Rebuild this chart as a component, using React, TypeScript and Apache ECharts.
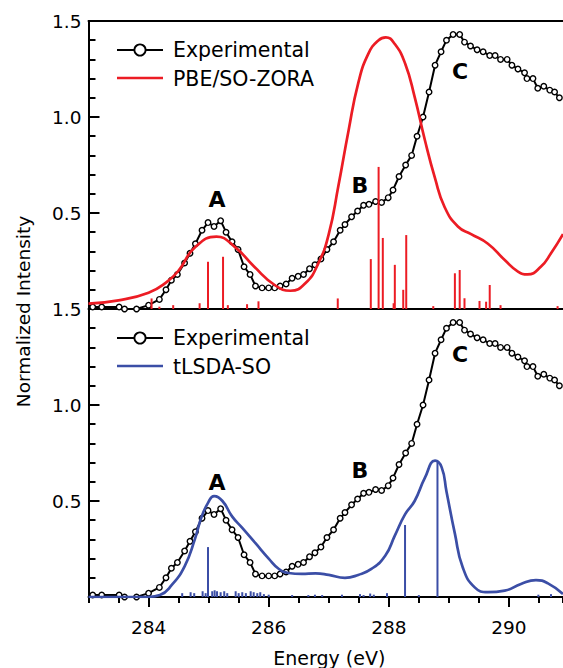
import React, { useEffect, useRef } from "react";
import * as echarts from "echarts";

// Experimental spectrum (same in both panels)
const expX = [283.07, 283.22, 283.51, 283.6, 283.8, 284.0, 284.18, 284.29, 284.38, 284.48, 284.6, 284.69, 284.78, 284.89, 284.99, 285.09, 285.2, 285.29, 285.39, 285.49, 285.59, 285.69, 285.78, 285.89, 286.0, 286.1, 286.19, 286.29, 286.39, 286.49, 286.58, 286.68, 286.77, 286.87, 286.97, 287.08, 287.19, 287.27, 287.38, 287.48, 287.58, 287.67, 287.78, 287.88, 287.99, 288.07, 288.17, 288.28, 288.38, 288.47, 288.57, 288.67, 288.77, 288.87, 288.96, 289.07, 289.18, 289.26, 289.36, 289.47, 289.57, 289.68, 289.77, 289.86, 289.97, 290.05, 290.15, 290.26, 290.3, 290.4, 290.48, 290.58, 290.68, 290.76, 290.84];
const expY = [0.01, 0.01, 0.01, 0.0, 0.0, 0.02, 0.05, 0.1, 0.15, 0.18, 0.24, 0.29, 0.34, 0.41, 0.45, 0.43, 0.46, 0.4, 0.35, 0.31, 0.22, 0.18, 0.12, 0.11, 0.11, 0.11, 0.12, 0.13, 0.16, 0.17, 0.18, 0.21, 0.23, 0.26, 0.31, 0.35, 0.41, 0.44, 0.48, 0.51, 0.54, 0.545, 0.56, 0.555, 0.58, 0.62, 0.69, 0.75, 0.8, 0.9, 1.0, 1.13, 1.27, 1.34, 1.4, 1.43, 1.43, 1.39, 1.37, 1.35, 1.34, 1.32, 1.32, 1.3, 1.3, 1.27, 1.25, 1.23, 1.2, 1.2, 1.15, 1.16, 1.14, 1.13, 1.1];

// PBE/SO-ZORA broadened spectrum
const pbeX = [283.0, 283.5, 284.0, 284.3, 284.5, 284.77, 285.13, 285.43, 285.76, 286.1, 286.36, 286.61, 286.83, 287.0, 287.16, 287.33, 287.49, 287.66, 287.83, 287.95, 288.1, 288.27, 288.43, 288.6, 288.77, 288.93, 289.15, 289.37, 289.65, 289.93, 290.15, 290.31, 290.53, 290.7, 290.9];
const pbeY = [0.028, 0.045, 0.085, 0.14, 0.2, 0.32, 0.377, 0.325, 0.22, 0.125, 0.095, 0.134, 0.24, 0.39, 0.64, 0.93, 1.175, 1.33, 1.4, 1.415, 1.38, 1.28, 1.105, 0.88, 0.68, 0.53, 0.43, 0.39, 0.34, 0.255, 0.195, 0.18, 0.22, 0.29, 0.39];

// PBE/SO-ZORA transition sticks
const pbeStickX = [284.05, 284.18, 284.41, 284.85, 284.99, 285.24, 285.32, 285.64, 285.83, 287.15, 287.7, 287.83, 287.9, 288.08, 288.1, 288.24, 288.29, 288.74, 289.1, 289.18, 289.26, 289.51, 289.62, 289.68, 289.86, 290.81];
const pbeStickY = [0.055, 0.012, 0.02, 0.03, 0.246, 0.272, 0.02, 0.025, 0.04, 0.055, 0.26, 0.74, 0.37, 0.03, 0.23, 0.1, 0.385, 0.015, 0.186, 0.203, 0.056, 0.042, 0.038, 0.125, 0.02, 0.015];

// tLSDA-SO broadened spectrum
const lsdaX = [283.0, 284.0, 284.19, 284.38, 284.6, 284.77, 284.88, 284.99, 285.09, 285.23, 285.39, 285.56, 285.78, 286.0, 286.17, 286.33, 286.55, 286.78, 287.0, 287.27, 287.49, 287.71, 287.94, 288.1, 288.27, 288.43, 288.6, 288.77, 288.88, 288.96, 289.1, 289.23, 289.43, 289.65, 289.93, 290.2, 290.45, 290.65, 290.9];
const lsdaY = [0.0, 0.0, 0.01, 0.06, 0.16, 0.3, 0.415, 0.49, 0.525, 0.5, 0.42, 0.36, 0.28, 0.2, 0.146, 0.125, 0.12, 0.123, 0.115, 0.1, 0.115, 0.146, 0.215, 0.32, 0.43, 0.5, 0.62, 0.71, 0.675, 0.55, 0.33, 0.155, 0.05, 0.025, 0.033, 0.068, 0.088, 0.071, 0.015];

// tLSDA-SO transition sticks
const lsdaStickX = [284.56, 284.7, 284.76, 284.9, 284.95, 284.99, 285.06, 285.1, 285.14, 285.2, 285.26, 285.31, 285.45, 285.5, 285.56, 285.62, 285.7, 285.75, 285.81, 285.86, 285.92, 286.0, 286.39, 286.66, 286.77, 286.89, 287.22, 287.52, 287.58, 287.69, 287.75, 287.97, 288.27, 288.5, 288.81, 290.49, 290.7];
const lsdaStickY = [0.02, 0.025, 0.02, 0.03, 0.02, 0.26, 0.03, 0.035, 0.03, 0.025, 0.03, 0.02, 0.03, 0.02, 0.025, 0.02, 0.03, 0.025, 0.02, 0.025, 0.015, 0.012, 0.01, 0.01, 0.012, 0.01, 0.012, 0.015, 0.01, 0.018, 0.012, 0.02, 0.375, 0.01, 0.71, 0.012, 0.015];

const xTickValues = [284, 286, 288, 290];
const legendTop = ["Experimental", "PBE/SO-ZORA"];
const legendBottom = ["Experimental", "tLSDA-SO"];
const peakLabels = ["A", "B", "C"];

const RED = "#ec1c24";
const BLUE = "#3b4ea6";
const FONT = "DejaVu Sans";

const X_MIN = 283;
const X_MAX = 290.9;

function pairs(xs: number[], ys: number[]) {
  return xs.map((x, i) => [x, ys[i]]);
}

function stickSeries(name: string, xs: number[], ys: number[], color: string, gi: number, xi: number) {
  return {
    name,
    type: "custom",
    xAxisIndex: xi,
    yAxisIndex: gi,
    clip: true,
    encode: { x: 0, y: 1 },
    data: pairs(xs, ys),
    z: 4,
    renderItem: (params: any, api: any) => {
      const x = api.value(0);
      const y = api.value(1);
      const p0 = api.coord([x, 0]);
      const p1 = api.coord([x, y]);
      return {
        type: "line",
        shape: { x1: p0[0], y1: p0[1], x2: p1[0], y2: p1[1] },
        style: { stroke: color, lineWidth: 2 },
      };
    },
  };
}

function expSeries(gi: number, xi: number) {
  return {
    name: "Experimental",
    type: "line",
    xAxisIndex: xi,
    yAxisIndex: gi,
    data: pairs(expX, expY),
    symbol: "circle",
    symbolSize: 5.5,
    showSymbol: true,
    itemStyle: { color: "#fff", borderColor: "#000", borderWidth: 1.4 },
    lineStyle: { color: "#000", width: 2 },
    z: 3,
  };
}

function calcSeries(name: string, xs: number[], ys: number[], color: string, gi: number, xi: number) {
  return {
    name,
    type: "line",
    xAxisIndex: xi,
    yAxisIndex: gi,
    data: pairs(xs, ys),
    smooth: 0.5,
    showSymbol: false,
    symbol: "none",
    lineStyle: { color, width: 2.7 },
    z: 5,
  };
}

function yAxisDef(gi: number) {
  return {
    type: "value",
    gridIndex: gi,
    min: 0,
    max: 1.5,
    interval: 0.5,
    axisLine: { show: true, onZero: false, lineStyle: { color: "#000", width: 2 } },
    axisTick: { show: true, inside: true, length: 11, lineStyle: { color: "#000", width: 2 } },
    minorTick: { show: true, splitNumber: 5, length: 7, lineStyle: { color: "#000", width: 2 } },
    splitLine: { show: false },
    minorSplitLine: { show: false },
    axisLabel: {
      margin: 7,
      color: "#000",
      fontFamily: FONT,
      fontSize: 18.5,
      formatter: (v: number) => (v === 0 ? "" : v.toFixed(1)),
    },
  };
}

function legendGraphics(y1: number, y2: number, labels: string[], color: string) {
  const txt = (t: string, y: number) => ({
    type: "text",
    x: 173,
    y,
    style: { text: t, fill: "#000", font: `20.5px "${FONT}"`, verticalAlign: "middle", align: "left" },
  });
  return [
    { type: "line", shape: { x1: 117, y1: y1, x2: 163, y2: y1 }, style: { stroke: "#000", lineWidth: 2 } },
    { type: "circle", shape: { cx: 140, cy: y1, r: 5.6 }, style: { fill: "#fff", stroke: "#000", lineWidth: 1.8 } },
    txt(labels[0], y1),
    { type: "line", shape: { x1: 117, y1: y2 - 1, x2: 163, y2: y2 - 1 }, style: { stroke: color, lineWidth: 2.7 } },
    txt(labels[1], y2),
  ];
}

function peakText(t: string, x: number, y: number) {
  return {
    type: "text",
    x,
    y,
    style: { text: t, fill: "#000", font: `bold 22px "${FONT}"`, align: "center", verticalAlign: "middle" },
  };
}

export default function App() {
  const ref = useRef<HTMLDivElement>(null);
  useEffect(() => {
    if (!ref.current) return;
    const chart = echarts.init(ref.current, undefined, { renderer: "svg" });
    const gridLeft = 88.5;
    const gridRight = 0;
    chart.setOption({
      animation: false,
      backgroundColor: "#fff",
      grid: [
        { left: gridLeft, right: gridRight, top: 21, height: 288 },
        { left: gridLeft, right: gridRight, top: 309, height: 289 },
      ],
      xAxis: [
        {
          type: "value", gridIndex: 0, min: X_MIN, max: X_MAX, position: "bottom",
          axisLine: { show: true, onZero: false, lineStyle: { color: "#000", width: 2 } },
          axisTick: { show: false }, axisLabel: { show: false }, splitLine: { show: false },
        },
        {
          type: "value", gridIndex: 0, min: X_MIN, max: X_MAX, position: "top",
          axisLine: { show: true, onZero: false, lineStyle: { color: "#000", width: 2 } },
          axisTick: { show: false }, axisLabel: { show: false }, splitLine: { show: false },
        },
        {
          type: "value", gridIndex: 1, min: X_MIN, max: X_MAX, interval: 0.5, position: "bottom",
          axisLine: { show: true, onZero: false, lineStyle: { color: "#000", width: 2 } },
          axisTick: { show: true, length: 6, lineStyle: { color: "#000", width: 2 } },
          axisLabel: { show: false }, splitLine: { show: false },
          name: "Energy (eV)", nameLocation: "middle", nameGap: 51,
          nameTextStyle: { color: "#000", fontFamily: FONT, fontSize: 19, padding: [0, 0, 0, 7] },
        },
        {
          type: "value", gridIndex: 1, min: X_MIN, max: X_MAX, position: "bottom",
          axisLine: { show: false, onZero: false },
          axisTick: { show: true, length: 10, customValues: xTickValues, lineStyle: { color: "#000", width: 2 } },
          axisLabel: {
            show: true, customValues: xTickValues, margin: 21, color: "#000", fontFamily: FONT, fontSize: 18.5,
            formatter: (v: number) => String(v),
          },
          splitLine: { show: false },
        },
      ],
      yAxis: [yAxisDef(0), yAxisDef(1)],
      series: [
        expSeries(0, 0),
        calcSeries("PBE/SO-ZORA", pbeX, pbeY, RED, 0, 0),
        stickSeries("PBE/SO-ZORA sticks", pbeStickX, pbeStickY, RED, 0, 0),
        expSeries(1, 2),
        calcSeries("tLSDA-SO", lsdaX, lsdaY, BLUE, 1, 2),
        stickSeries("tLSDA-SO sticks", lsdaStickX, lsdaStickY, BLUE, 1, 2),
      ],
      graphic: [
        ...legendGraphics(50, 79, legendTop, RED),
        ...legendGraphics(338, 367, legendBottom, BLUE),
        peakText(peakLabels[0], 217, 199),
        peakText(peakLabels[1], 360, 185),
        peakText(peakLabels[2], 460, 71),
        peakText(peakLabels[0], 217, 482),
        peakText(peakLabels[1], 360, 470),
        peakText(peakLabels[2], 460, 354),
        {
          type: "text",
          x: 23,
          y: 311.5,
          rotation: Math.PI / 2,
          style: {
            text: "Normalized Intensity", fill: "#000", font: `18.5px "${FONT}"`,
            align: "center", verticalAlign: "middle",
          },
        },
      ],
    });
    return () => chart.dispose();
  }, []);
  return (
    <div
      ref={ref}
      style={{ position: "fixed", left: 0, top: 0, width: 563, height: 668, background: "#fff" }}
    />
  );
}
